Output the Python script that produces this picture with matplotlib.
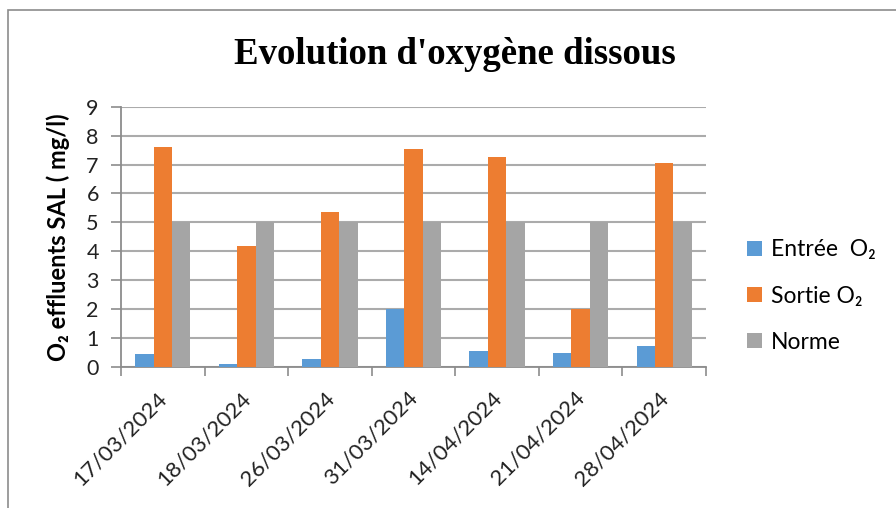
import matplotlib
matplotlib.use("Agg")
import matplotlib.pyplot as plt
import numpy as np
from matplotlib.patches import Rectangle
from matplotlib.transforms import ScaledTranslation

dates = ["17/03/2024", "18/03/2024", "26/03/2024", "31/03/2024",
         "14/04/2024", "21/04/2024", "28/04/2024"]
entree = [0.45, 0.1, 0.28, 2.0, 0.55, 0.48, 0.73]
sortie = [7.6, 4.2, 5.36, 7.54, 7.26, 2.0, 7.05]
norme = [5, 5, 5, 5, 5, 5, 5]
series_labels = ["Entrée  O\u2082", "Sortie O\u2082", "Norme"]
colors = ["#5B9BD5", "#ED7D31", "#A5A5A5"]
yticks = list(range(0, 10))

W, H = 896, 508
fig = plt.figure(figsize=(W / 100, H / 100), dpi=100)
fam = ["Lato", "DejaVu Sans"]

# chart border (left and top visible)
fig.patches.append(Rectangle((8 / W, -0.1), 1.2, (H - 10) / H + 0.1,
                             transform=fig.transFigure, fill=False,
                             edgecolor="#8c8c8c", linewidth=1.2))

ax = fig.add_axes([121 / W, (H - 367) / H, (706 - 121) / W, (367 - 106.7) / H])
x = np.arange(len(dates))
bw = 0.22
for i, (vals, lab, c) in enumerate(zip([entree, sortie, norme], series_labels, colors)):
    ax.bar(x + (i - 1) * bw, vals, width=bw, color=c, label=lab, zorder=3)

ax.set_xlim(-0.5, len(dates) - 0.5)
ax.set_ylim(0, 9)
ax.set_yticks(yticks)
ax.set_yticklabels([str(v) for v in yticks], fontsize=15.5, family=fam, color="#222222")
ax.yaxis.grid(True, color="#ababab", linewidth=1.5, zorder=0)
ax.set_axisbelow(True)
for s in ["top", "right"]:
    ax.spines[s].set_visible(False)
ax.spines["left"].set_color("#8c8c8c")
ax.spines["bottom"].set_color("#8c8c8c")
ax.spines["left"].set_linewidth(1.3)
ax.spines["bottom"].set_linewidth(1.3)
ax.tick_params(axis="y", length=7, color="#8c8c8c", width=1.2, pad=9)

ax.set_xticks(np.arange(-0.5, len(dates), 1.0))
ax.set_xticklabels([])
ax.tick_params(axis="x", which="major", length=6.5, color="#8c8c8c", width=1.2)
ax.set_xticks(x, minor=True)
ax.set_xticklabels(dates, minor=True, rotation=45, ha="right",
                   rotation_mode="anchor", fontsize=16, family=fam, color="#222222")
ax.tick_params(axis="x", which="minor", length=0, pad=15)
off = ScaledTranslation(-6 / 100, 0, fig.dpi_scale_trans)
for lbl in ax.get_xticklabels(minor=True):
    lbl.set_transform(lbl.get_transform() + off)

ax.set_ylabel("O\u2082 effluents SAL ( mg/l)", fontsize=17, fontweight="bold",
              family=fam, labelpad=12)

fig.text(455 / W, (H - 55) / H, "Evolution d'oxygène dissous", ha="center", va="center",
         fontsize=26.5, fontweight="bold", family="Liberation Serif")

fig.legend(loc="center left", bbox_to_anchor=(726 / W, (H - 296) / H),
           frameon=False, prop={"family": fam, "size": 16.5},
           handlelength=0.65, handleheight=0.65, handletextpad=0.4, labelspacing=1.1)

fig.savefig("out.png", dpi=100)
